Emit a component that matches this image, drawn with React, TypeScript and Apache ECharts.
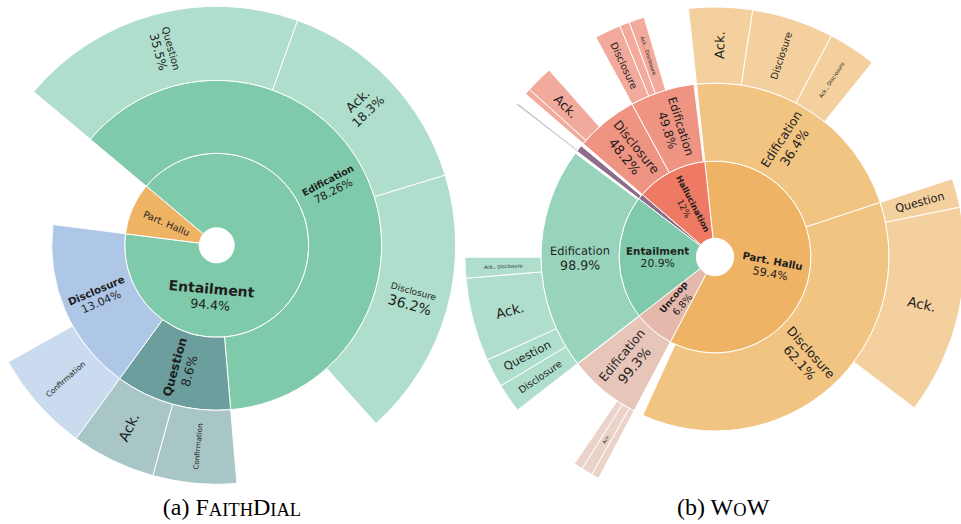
import React, { useEffect, useRef } from 'react';
import * as echarts from 'echarts';

// ================= (a) FaithDial =================
// shares are angular shares (% of the parent)
const FD_L1_NAMES = ['Entailment', 'Part. Hallu'];
const FD_L1_SHARE = [90.9, 9.1];
const FD_L1_PCT = ['94.4%', ''];

const FD_ENT_NAMES = ['Edification', 'Question', 'Disclosure'];
const FD_ENT_SHARE = [68.8, 12.5, 18.7];
const FD_ENT_PCT = ['78.26%', '8.6%', '13.04%'];

const FD_EDIF_NAMES = ['Question', 'Ack.', 'Disclosure'];
const FD_EDIF_SHARE = [31.0, 23.6, 29.0];
const FD_EDIF_PCT = ['35.5%', '18.3%', '36.2%'];

const FD_QUES_NAMES = ['Confirmation', 'Ack.'];
const FD_QUES_SHARE = [49.8, 50.2];

const FD_DISC_NAMES = ['Confirmation'];
const FD_DISC_SHARE = [40.4];

// ================= (b) WoW =================
const WOW_L1_NAMES = ['Part. Hallu', 'Uncoop', 'Entailment', '', 'Hallucination'];
const WOW_L1_SHARE = [59.4, 6.8, 20.9, 0.9, 12.0];
const WOW_L1_PCT = ['59.4%', '6.8%', '20.9%', '', '12%'];

const WOW_PH_NAMES = ['Edification', 'Disclosure'];
const WOW_PH_SHARE = [36.4, 62.1];
const WOW_PH_PCT = ['36.4%', '62.1%'];
const WOW_PH_EDIF_NAMES = ['Ack.', 'Disclosure', 'Ack., Disclosure'];
const WOW_PH_EDIF_SHARE = [19.0, 24.5, 14.4];
const WOW_PH_DISC_NAMES = ['Question', 'Ack.'];
const WOW_PH_DISC_SHARE = [5.1, 36.6];

const WOW_UN_NAMES = ['Edification'];
const WOW_UN_SHARE = [99.3];
const WOW_UN_PCT = ['99.3%'];
const WOW_UN_EDIF_NAMES = ['', 'Ack.', ''];
const WOW_UN_EDIF_SHARE = [7.4, 10.7, 8.6];

const WOW_ENT_NAMES = ['Edification'];
const WOW_ENT_SHARE = [98.9];
const WOW_ENT_PCT = ['98.9%'];
const WOW_ENT_EDIF_NAMES = ['Disclosure', 'Question', 'Ack.', 'Ack., Disclosure'];
const WOW_ENT_EDIF_SHARE = [9.1, 9.0, 26.1, 6.5];

const WOW_OTHER_NAMES = [''];
const WOW_OTHER_SHARE = [70];
const WOW_OTHER_SUB_NAMES = [''];
const WOW_OTHER_SUB_SHARE = [22];

const WOW_HAL_NAMES = ['Disclosure', 'Edification'];
const WOW_HAL_SHARE = [48.2, 49.8];
const WOW_HAL_PCT = ['48.2%', '49.8%'];
const WOW_HAL_DISC_NAMES = ['', 'Ack.'];
const WOW_HAL_DISC_SHARE = [6.7, 30.3];
const WOW_HAL_EDIF_NAMES = ['Disclosure', '', 'Ack., Disclosure'];
const WOW_HAL_EDIF_SHARE = [28.4, 10.7, 16.7];

// ================= tree building =================
type Raw = { name: string; share: number; pct: string; children?: Raw[] };
const lvl = (names: string[], shares: number[], pcts: string[] = [], kids: (Raw[] | undefined)[] = []): Raw[] =>
  names.map((name, i) => ({ name, share: shares[i], pct: pcts[i] || '', children: kids[i] }));

const FD_TREE = lvl(FD_L1_NAMES, FD_L1_SHARE, FD_L1_PCT, [
  lvl(FD_ENT_NAMES, FD_ENT_SHARE, FD_ENT_PCT, [
    lvl(FD_EDIF_NAMES, FD_EDIF_SHARE, FD_EDIF_PCT),
    lvl(FD_QUES_NAMES, FD_QUES_SHARE),
    lvl(FD_DISC_NAMES, FD_DISC_SHARE),
  ]),
]);

const WOW_TREE = lvl(WOW_L1_NAMES, WOW_L1_SHARE, WOW_L1_PCT, [
  lvl(WOW_PH_NAMES, WOW_PH_SHARE, WOW_PH_PCT, [
    lvl(WOW_PH_EDIF_NAMES, WOW_PH_EDIF_SHARE),
    lvl(WOW_PH_DISC_NAMES, WOW_PH_DISC_SHARE),
  ]),
  lvl(WOW_UN_NAMES, WOW_UN_SHARE, WOW_UN_PCT, [lvl(WOW_UN_EDIF_NAMES, WOW_UN_EDIF_SHARE)]),
  lvl(WOW_ENT_NAMES, WOW_ENT_SHARE, WOW_ENT_PCT, [lvl(WOW_ENT_EDIF_NAMES, WOW_ENT_EDIF_SHARE)]),
  lvl(WOW_OTHER_NAMES, WOW_OTHER_SHARE, [], [lvl(WOW_OTHER_SUB_NAMES, WOW_OTHER_SUB_SHARE)]),
  lvl(WOW_HAL_NAMES, WOW_HAL_SHARE, WOW_HAL_PCT, [
    lvl(WOW_HAL_DISC_NAMES, WOW_HAL_DISC_SHARE),
    lvl(WOW_HAL_EDIF_NAMES, WOW_HAL_EDIF_SHARE),
  ]),
]);

// ================= styles =================
const FONT = 'DejaVu Sans';
const TXT = '#1e1e1e';

type FontSpec = [number, number, boolean?];

const FD_FONTS: Record<string, FontSpec> = {
  'Entailment': [14, 12.5, true],
  'Part. Hallu': [9.6, 0],
  'Entailment/Edification': [9.5, 11, true],
  'Entailment/Question': [12, 12.5, true],
  'Entailment/Disclosure': [10.3, 11, true],
  'Entailment/Edification/Question': [10, 12],
  'Entailment/Edification/Ack.': [13, 12.3],
  'Entailment/Edification/Disclosure': [9, 14],
  'Entailment/Question/Confirmation': [7.2, 0],
  'Entailment/Question/Ack.': [14, 0],
  'Entailment/Disclosure/Confirmation': [7.7, 0],
};

const WOW_FONTS: Record<string, FontSpec> = {
  'Part. Hallu': [10.2, 11.2, true],
  'Uncoop': [9, 9.7, true],
  'Entailment': [10.3, 10.8, true],
  'Hallucination': [8.4, 8.8, true],
  'Part. Hallu/Edification': [12.3, 13],
  'Part. Hallu/Disclosure': [12.5, 13],
  'Uncoop/Edification': [12.2, 13.5],
  'Entailment/Edification': [11.4, 12.6],
  'Hallucination/Disclosure': [12.5, 13.3],
  'Hallucination/Edification': [11.6, 12],
  'Part. Hallu/Edification/Ack.': [13, 0],
  'Part. Hallu/Edification/Disclosure': [9.6, 0],
  'Part. Hallu/Edification/Ack., Disclosure': [5.3, 0],
  'Part. Hallu/Disclosure/Question': [11.3, 0],
  'Part. Hallu/Disclosure/Ack.': [13.6, 0],
  'Uncoop/Edification/Ack.': [4.8, 0],
  'Entailment/Edification/Disclosure': [9.7, 0],
  'Entailment/Edification/Question': [11.5, 0],
  'Entailment/Edification/Ack.': [13.6, 0],
  'Entailment/Edification/Ack., Disclosure': [4.9, 0],
  'Hallucination/Disclosure/Ack.': [12.7, 0],
  'Hallucination/Edification/Disclosure': [9.8, 0],
  'Hallucination/Edification/Ack., Disclosure': [5.1, 0],
};

const FD_SPECIAL: Record<string, any> = {
  'Entailment': { rotate: -5, padding: [67.6, 106.6, 0, 0] },
};

const FD_COLORS: Record<string, string[]> = {
  'Entailment': ['#7FCAAA'],
  'Part. Hallu': ['#EFB364'],
  'Edification': ['#7FCAAA', '#B0DECC'],
  'Question': ['#6B9E9C', '#A8C6C5'],
  'Disclosure': ['#AEC7E6', '#CBDBEF'],
};
const fdColor = (path: string[]) =>
  path.length === 1 ? FD_COLORS[path[0]][0] : FD_COLORS[path[1]][path.length - 2];

const WOW_COLORS: Record<string, string[]> = {
  'Part. Hallu': ['#EFB366', '#F2C482', '#F4D09E'],
  'Uncoop': ['#E4B8AA', '#E7C6B9', '#EBD3C9'],
  'Entailment': ['#7FCAAA', '#98D4BB', '#B0DECC'],
  '': ['#8D6B8B', '#8D6B8B', '#C9B6C7'],
  'Hallucination': ['#EE7A64', '#EF9383', '#F2AA9C'],
};
const wowColor = (path: string[]) => WOW_COLORS[path[0]][path.length - 1];

function labelFor(name: string, pct: string, f: FontSpec | undefined, extra: any) {
  if (!name || !f) return { show: false };
  const [ns, ps, bold] = f;
  const text = pct ? `{n|${name}}\n{p|${pct}}` : `{n|${name}}`;
  return {
    show: true,
    formatter: text,
    rich: {
      n: { fontFamily: FONT, fontSize: ns, fontWeight: bold ? 'bold' : 'normal', color: TXT, lineHeight: ns * 1.2 },
      p: { fontFamily: FONT, fontSize: ps || ns, color: TXT, lineHeight: (ps || ns) * 1.2 },
    },
    ...(extra || {}),
  };
}

function toItems(
  raws: Raw[],
  parentValue: number,
  parentPath: string[],
  fonts: Record<string, FontSpec>,
  color: (p: string[]) => string,
  special: Record<string, any>
): any[] {
  return raws.map((r) => {
    const value = (parentValue * r.share) / 100;
    const path = [...parentPath, r.name];
    const key = path.join('/');
    const item: any = {
      name: r.name,
      value,
      itemStyle: { color: color(path) },
      label: labelFor(r.name, r.pct, fonts[key], special[key]),
    };
    if (r.children) item.children = toItems(r.children, value, path, fonts, color, special);
    return item;
  });
}

const fdData = toItems(FD_TREE, 100, [], FD_FONTS, fdColor, FD_SPECIAL);
const wowData = toItems(WOW_TREE, 100, [], WOW_FONTS, wowColor, {});

const baseSeries = {
  type: 'sunburst',
  sort: null,
  nodeClick: false,
  itemStyle: { borderColor: '#ffffff', borderWidth: 1 },
  label: { rotate: 'radial' },
  emphasis: { focus: 'none' },
};

const capRich = {
  a: { fontFamily: 'Liberation Serif', fontSize: 24, fontWeight: 'normal', color: '#000', verticalAlign: 'bottom', lineHeight: 28 },
  s: { fontFamily: 'Liberation Serif', fontSize: 18.5, fontWeight: 'normal', color: '#000', verticalAlign: 'bottom', lineHeight: 28 },
};
const capStyle = { fontWeight: 'normal', fontFamily: 'Liberation Serif', rich: capRich };

export default function App() {
  const ref = useRef<HTMLDivElement>(null);
  useEffect(() => {
    if (!ref.current) return;
    const chart = echarts.init(ref.current, undefined, { renderer: 'svg' });
    chart.setOption({
      animation: false,
      backgroundColor: '#ffffff',
      title: [
        { text: '{a|(a) F}{s|AITH}{a|D}{s|IAL}', left: 227, top: 486, textAlign: 'center', textStyle: capStyle },
        { text: '{a|(b) W}{s|O}{a|W}', left: 718, top: 486, textAlign: 'center', textStyle: capStyle },
      ],
      series: [
        {
          ...baseSeries,
          center: [216.7, 245.3],
          radius: [0, 240],
          startAngle: 140,
          data: fdData,
          levels: [{}, { r0: 17.6, r: 92 }, { r0: 92, r: 165 }, { r0: 165, r: 239 }],
        },
        {
          ...baseSeries,
          center: [715, 257],
          radius: [0, 250],
          startAngle: 96.1,
          data: wowData,
          levels: [{}, { r0: 18.7, r: 96 }, { r0: 96, r: 174 }, { r0: 174, r: 250 }],
        },
      ],
    } as any);
    return () => chart.dispose();
  }, []);
  return <div ref={ref} style={{ position: 'absolute', left: 0, top: 0, width: 961, height: 524 }} />;
}
